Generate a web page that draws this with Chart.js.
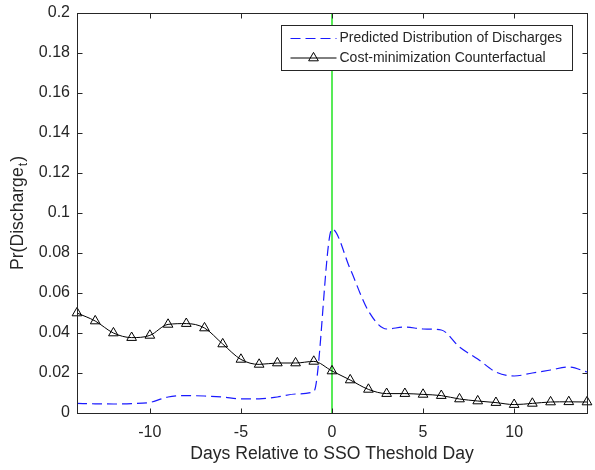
<!DOCTYPE html>
<html>
<head>
<meta charset="utf-8">
<title>Pr(Discharge) around the SSO threshold day</title>
<script src="https://cdn.jsdelivr.net/npm/chart.js@4.4.1/dist/chart.umd.min.js"></script>
<style>
  html, body { margin: 0; padding: 0; background: #ffffff; }
  canvas { display: block; }
</style>
</head>
<body>
<canvas id="dischargeChart" width="595" height="470"></canvas>
<script>
// Days relative to the threshold day
const days = [-14, -13, -12, -11, -10, -9, -8, -7, -6, -5, -4, -3, -2, -1, 0,
              1, 2, 3, 4, 5, 6, 7, 8, 9, 10, 11, 12, 13, 14];

// Predicted distribution of discharges (dashed blue)
const predicted = [0.0048, 0.0046, 0.0045, 0.0047, 0.0053, 0.0080, 0.0087, 0.0085, 0.0080, 0.0071,
                   0.0071, 0.0080, 0.0095, 0.0107, 0.0920, 0.0720, 0.0510, 0.0420, 0.0430, 0.0420,
                   0.0415, 0.0330, 0.0270, 0.0205, 0.0185, 0.0200, 0.0215, 0.0230, 0.0205];

// Cost-minimization counterfactual (black with triangles)
const counterfactual = [0.0500, 0.0460, 0.0400, 0.0377, 0.0388, 0.0443, 0.0447, 0.0425, 0.0345, 0.0268,
                        0.0243, 0.0250, 0.0250, 0.0258, 0.0210, 0.0165, 0.0118, 0.0097, 0.0097, 0.0093,
                        0.0087, 0.0070, 0.0060, 0.0052, 0.0042, 0.0048, 0.0055, 0.0056, 0.0055];

const seriesLabels = ['Predicted Distribution of Discharges', 'Cost-minimization Counterfactual'];

// Threshold marker and axis ranges
const thresholdDay = 0;
const xRange = [-14, 14];
const yRange = [0, 0.2];
const xTicks = [-10, -5, 0, 5, 10];
const yTicks = [0, 0.02, 0.04, 0.06, 0.08, 0.1, 0.12, 0.14, 0.16, 0.18, 0.2];
const yTickLabels = ['0', '0.02', '0.04', '0.06', '0.08', '0.1', '0.12', '0.14', '0.16', '0.18', '0.2'];

const xTitle = 'Days Relative to SSO Theshold Day';
const yTitleMain = 'Pr(Discharge';
const yTitleSub = 't';
const yTitleEnd = ')';

const FONT = '"Liberation Sans", Arial, Helvetica, sans-serif';
const AXIS_COLOR = '#262626';

function toPoints(values) {
    return days.map((d, i) => ({ x: d, y: values[i] }));
}

// Box, inward ticks, titles and legend drawn on top of the datasets
const axesDecor = {
    id: 'axesDecor',
    afterDatasetsDraw(chart) {
        const ctx = chart.ctx;
        const area = chart.chartArea;
        const xs = chart.scales.x;
        const ys = chart.scales.y;
        const L = Math.round(area.left) + 0.5;
        const R = Math.round(area.right) + 0.5;
        const T = Math.round(area.top) + 0.5;
        const B = Math.round(area.bottom) + 0.5;
        const tickLen = 5;

        ctx.save();
        ctx.strokeStyle = AXIS_COLOR;
        ctx.lineWidth = 1;
        ctx.setLineDash([]);
        ctx.strokeRect(L, T, R - L, B - T);

        ctx.beginPath();
        xTicks.forEach(v => {
            const px = Math.round(xs.getPixelForValue(v)) + 0.5;
            ctx.moveTo(px, B); ctx.lineTo(px, B - tickLen);
            ctx.moveTo(px, T); ctx.lineTo(px, T + tickLen);
        });
        yTicks.forEach(v => {
            const py = Math.round(ys.getPixelForValue(v)) + 0.5;
            ctx.moveTo(L, py); ctx.lineTo(L + tickLen, py);
            ctx.moveTo(R, py); ctx.lineTo(R - tickLen, py);
        });
        ctx.stroke();

        // x title
        ctx.fillStyle = AXIS_COLOR;
        ctx.font = '17.6px ' + FONT;
        ctx.textAlign = 'center';
        ctx.textBaseline = 'middle';
        ctx.fillText(xTitle, (area.left + area.right) / 2, 454);

        // y title with subscript
        ctx.save();
        ctx.translate(18, (area.top + area.bottom) / 2);
        ctx.rotate(-Math.PI / 2);
        ctx.textAlign = 'left';
        ctx.font = '17.6px ' + FONT;
        const w1 = ctx.measureText(yTitleMain).width;
        const w3 = ctx.measureText(yTitleEnd).width;
        ctx.font = '12.5px ' + FONT;
        const w2 = ctx.measureText(yTitleSub).width;
        let x0 = -(w1 + w2 + w3 + 2) / 2;
        ctx.font = '17.6px ' + FONT;
        ctx.fillText(yTitleMain, x0, 0);
        ctx.font = '12.5px ' + FONT;
        ctx.fillText(yTitleSub, x0 + w1 + 1, 6);
        ctx.font = '17.6px ' + FONT;
        ctx.fillText(yTitleEnd, x0 + w1 + w2 + 2, 0);
        ctx.restore();

        // legend
        const bx = Math.round(area.left + 204) + 0.5;
        const by = Math.round(area.top + 12) + 0.5;
        const bw = Math.round(area.right - 15) - Math.round(area.left + 204);
        const bh = 45;
        ctx.fillStyle = '#ffffff';
        ctx.fillRect(bx, by, bw, bh);
        ctx.strokeStyle = AXIS_COLOR;
        ctx.lineWidth = 1;
        ctx.strokeRect(bx, by, bw, bh);

        ctx.font = '14px ' + FONT;
        ctx.textAlign = 'left';
        ctx.textBaseline = 'middle';
        [0, 1].forEach(i => {
            const ds = chart.data.datasets[i];
            const rowY = by + 13 + i * 19.5;
            const sx0 = bx + 9;
            const sx1 = bx + 55;
            ctx.save();
            ctx.strokeStyle = ds.borderColor;
            ctx.lineWidth = ds.borderWidth;
            ctx.setLineDash(ds.borderDash || []);
            ctx.beginPath();
            ctx.moveTo(sx0, rowY);
            ctx.lineTo(sx1, rowY);
            ctx.stroke();
            if (ds.pointRadius > 0) {
                ctx.setLineDash([]);
                ctx.fillStyle = ds.pointBackgroundColor;
                ctx.strokeStyle = ds.pointBorderColor;
                ctx.lineWidth = ds.pointBorderWidth;
                Chart.helpers.drawPoint(ctx, {
                    pointStyle: ds.pointStyle,
                    radius: ds.pointRadius,
                    borderWidth: ds.pointBorderWidth,
                    rotation: 0
                }, (sx0 + sx1) / 2, rowY);
            }
            ctx.restore();
            ctx.fillStyle = AXIS_COLOR;
            ctx.fillText(seriesLabels[i], bx + 58, rowY);
        });
        ctx.restore();
    }
};

new Chart(document.getElementById('dischargeChart').getContext('2d'), {
    type: 'line',
    data: {
        datasets: [
            {
                label: seriesLabels[0],
                data: toPoints(predicted),
                borderColor: '#1a1aff',
                borderWidth: 1.2,
                borderDash: [10, 5],
                pointRadius: 0,
                cubicInterpolationMode: 'monotone',
                fill: false,
                order: 2
            },
            {
                label: seriesLabels[1],
                data: toPoints(counterfactual),
                borderColor: '#000000',
                borderWidth: 1,
                pointStyle: 'triangle',
                pointRadius: 5.6,
                pointBorderWidth: 1,
                pointBorderColor: '#000000',
                pointBackgroundColor: 'rgba(0,0,0,0)',
                cubicInterpolationMode: 'monotone',
                fill: false,
                clip: false,
                order: 1
            },
            {
                label: 'threshold',
                data: [{ x: thresholdDay, y: yRange[0] }, { x: thresholdDay, y: yRange[1] }],
                borderColor: '#2ee62e',
                borderWidth: 1.6,
                pointRadius: 0,
                fill: false,
                order: 3
            }
        ]
    },
    options: {
        responsive: false,
        animation: false,
        layout: { padding: { top: 13, right: 8, left: 0, bottom: 0 } },
        plugins: {
            legend: { display: false },
            tooltip: { enabled: false }
        },
        scales: {
            x: {
                type: 'linear',
                min: xRange[0],
                max: xRange[1],
                afterFit: s => {
                    s.height = 57;
                    s.paddingLeft = 0;
                    s.paddingRight = 0;
                },
                afterBuildTicks: s => { s.ticks = xTicks.map(v => ({ value: v })); },
                grid: { display: false, drawTicks: false },
                border: { display: false },
                ticks: {
                    padding: 10,
                    color: AXIS_COLOR,
                    font: { family: FONT, size: 16 },
                    maxRotation: 0,
                    callback: v => String(v)
                }
            },
            y: {
                type: 'linear',
                min: yRange[0],
                max: yRange[1],
                afterFit: s => {
                    s.width = 77;
                    s.paddingTop = 0;
                    s.paddingBottom = 0;
                },
                afterBuildTicks: s => { s.ticks = yTicks.map(v => ({ value: v })); },
                grid: { display: false, drawTicks: false },
                border: { display: false },
                ticks: {
                    padding: 7,
                    color: AXIS_COLOR,
                    font: { family: FONT, size: 16 },
                    callback: (v, i) => yTickLabels[i]
                }
            }
        }
    },
    plugins: [axesDecor]
});
</script>
</body>
</html>
